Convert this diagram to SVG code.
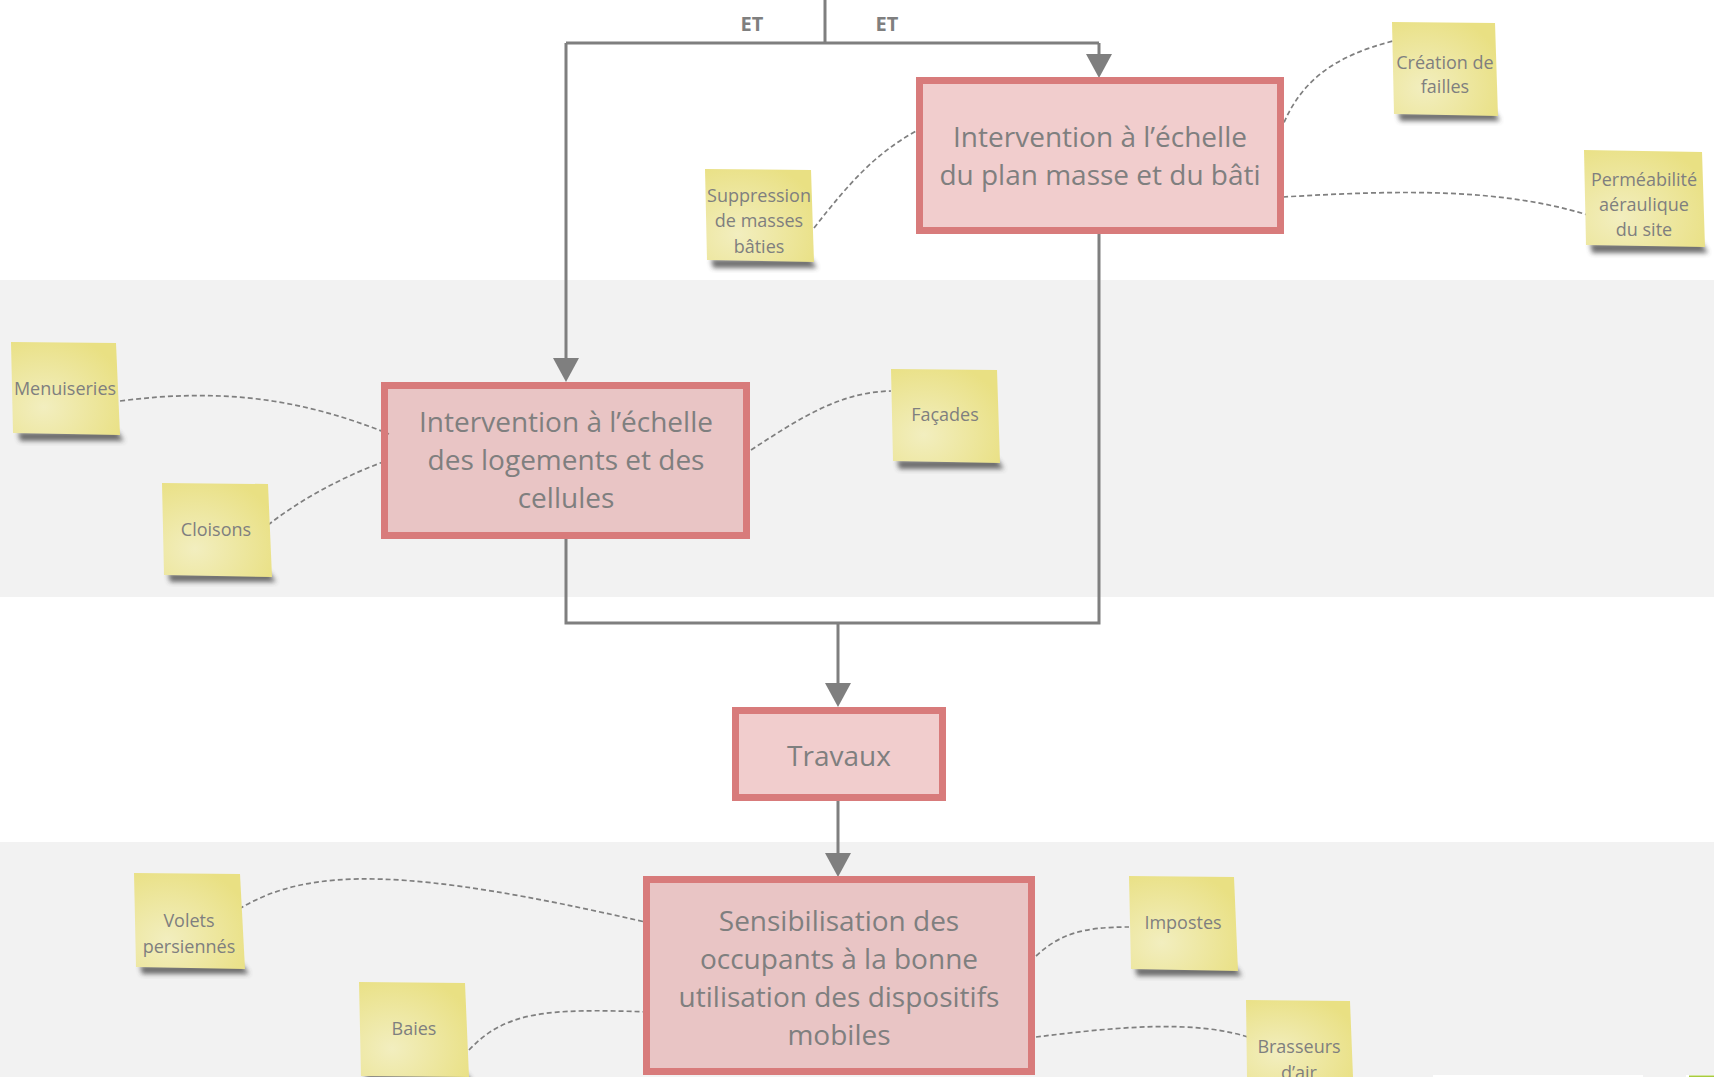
<svg xmlns="http://www.w3.org/2000/svg" width="1714" height="1077" viewBox="0 0 1714 1077">
<defs>
<style>
.band{fill:#f2f2f2}
.box{fill:#d97c7c;fill-opacity:0.38;stroke:#d87b7b;stroke-width:7}
.boxtxt{font-family:"Open Sans","Noto Sans",sans-serif;font-size:28px;fill:#7f7f7f;text-anchor:middle}
.notetxt{font-family:"Open Sans","Noto Sans",sans-serif;font-size:18px;fill:#7f7f7f;text-anchor:middle}
.et{font-family:"Open Sans","Noto Sans",sans-serif;font-size:20px;font-weight:bold;fill:#7f7f7f;text-anchor:middle}
.note{fill:url(#noteGrad)}
.shadow{fill:#404040;opacity:0.75;filter:url(#blur)}
.flow{fill:none;stroke:#7f7f7f;stroke-width:3}
.dash{fill:none;stroke:#7f7f7f;stroke-width:1.7;stroke-dasharray:5 3}
</style>
<radialGradient id="noteGrad" cx="0.3" cy="0.7" r="0.8">
<stop offset="0" stop-color="#f2eebf"/>
<stop offset="1" stop-color="#e9e083"/>
</radialGradient>
<filter id="blur" x="-20%" y="-50%" width="140%" height="200%">
<feGaussianBlur stdDeviation="2.5"/>
</filter>
<marker id="arrow" markerUnits="userSpaceOnUse" viewBox="0 0 24 26" markerWidth="24" markerHeight="26" refX="14" refY="13" orient="auto">
<path d="M0,0 L24,13 L0,26 Z" fill="#7f7f7f"/>
</marker>
</defs>

<rect x="0" y="0" width="1714" height="1077" fill="#ffffff"/>
<rect class="band" x="0" y="280" width="1714" height="317"/>
<rect class="band" x="0" y="842" width="1714" height="235"/>
<rect x="1433" y="1075" width="210" height="2" fill="#ffffff"/>
<rect x="1686" y="1075" width="28" height="2" fill="#ffffff"/>
<rect x="1689" y="1075.5" width="25" height="1.5" fill="#a8cc3c"/>

<g id="connectors">
<path class="flow" d="M825,0 V43"/>
<path class="flow" d="M566,43 H1099"/>
<path class="flow" d="M566,43 V372" marker-end="url(#arrow)"/>
<path class="flow" d="M1099,43 V68" marker-end="url(#arrow)"/>
<path class="flow" d="M566,539 V623 H1099 V234"/>
<path class="flow" d="M838,623 V697" marker-end="url(#arrow)"/>
<path class="flow" d="M838,801 V867" marker-end="url(#arrow)"/>
<path class="dash" d="M814,228 C850,182 875,154 916,131"/>
<path class="dash" d="M1281,130 C1300,80 1335,56 1393,41"/>
<path class="dash" d="M1283,197 C1400,190 1500,188 1588,215"/>
<path class="dash" d="M120,401 C220,388 300,398 389,434"/>
<path class="dash" d="M268,525 C300,500 340,478 383,462"/>
<path class="dash" d="M751,450 C800,418 840,392 891,391"/>
<path class="dash" d="M239,909 C310,866 410,868 645,922"/>
<path class="dash" d="M469,1050 C505,1012 545,1008 649,1012"/>
<path class="dash" d="M1036,956 C1060,934 1082,927 1129,927"/>
<path class="dash" d="M1036,1037 C1110,1028 1195,1018 1254,1039"/>
<text class="et" x="752" y="31">ET</text>
<text class="et" x="887" y="31">ET</text>
</g>

<g id="box-plan-masse">
<rect class="box" x="919.5" y="80.5" width="361" height="150"/>
<text class="boxtxt" x="1100" y="147">Intervention à l’échelle</text>
<text class="boxtxt" x="1100" y="185">du plan masse et du bâti</text>
</g>

<g id="box-logements">
<rect class="box" x="384.5" y="385.5" width="362" height="150"/>
<text class="boxtxt" x="566" y="432">Intervention à l’échelle</text>
<text class="boxtxt" x="566" y="470">des logements et des</text>
<text class="boxtxt" x="566" y="508">cellules</text>
</g>

<g id="box-travaux">
<rect class="box" x="735.5" y="710.5" width="207" height="87"/>
<text class="boxtxt" x="839" y="766">Travaux</text>
</g>

<g id="box-sensibilisation">
<rect class="box" x="646.5" y="879.5" width="385" height="192"/>
<text class="boxtxt" x="839" y="931">Sensibilisation des</text>
<text class="boxtxt" x="839" y="969">occupants à la bonne</text>
<text class="boxtxt" x="839" y="1007">utilisation des dispositifs</text>
<text class="boxtxt" x="839" y="1045">mobiles</text>
</g>

<g id="note-creation">
<path class="shadow" d="M1398,112 L1494,111 L1500,121 L1400,121 Z"/>
<path class="note" d="M1392,22 L1495,23 L1498,116 L1394,114 Z"/>
<text class="notetxt" x="1445" y="69">Création de</text>
<text class="notetxt" x="1445" y="93">failles</text>
</g>

<g id="note-permeabilite">
<path class="shadow" d="M1590,243 L1701,242 L1708,253 L1592,253 Z"/>
<path class="note" d="M1584,150 L1702,152 L1705,247 L1586,245 Z"/>
<text class="notetxt" x="1644" y="186">Perméabilité</text>
<text class="notetxt" x="1644" y="211">aéraulique</text>
<text class="notetxt" x="1644" y="236">du site</text>
</g>

<g id="note-suppression">
<path class="shadow" d="M711,259 L810,258 L817,268 L713,268 Z"/>
<path class="note" d="M705,169 L811,170 L814,262 L707,260 Z"/>
<text class="notetxt" x="759" y="202">Suppression</text>
<text class="notetxt" x="759" y="227">de masses</text>
<text class="notetxt" x="759" y="253">bâties</text>
</g>

<g id="note-menuiseries">
<path class="shadow" d="M18,432 L117,431 L124,441 L20,441 Z"/>
<path class="note" d="M11,342 L116,343 L120,435 L13,433 Z"/>
<text class="notetxt" x="65" y="395">Menuiseries</text>
</g>

<g id="note-cloisons">
<path class="shadow" d="M168,573 L269,572 L276,582 L170,582 Z"/>
<path class="note" d="M162,483 L268,484 L272,577 L164,575 Z"/>
<text class="notetxt" x="216" y="536">Cloisons</text>
</g>

<g id="note-facades">
<path class="shadow" d="M897,460 L997,459 L1004,469 L899,469 Z"/>
<path class="note" d="M891,369 L997,370 L1000,463 L893,461 Z"/>
<text class="notetxt" x="945" y="421">Façades</text>
</g>

<g id="note-volets">
<path class="shadow" d="M140,965 L242,964 L249,974 L142,974 Z"/>
<path class="note" d="M134,873 L240,874 L245,969 L136,967 Z"/>
<text class="notetxt" x="189" y="927">Volets</text>
<text class="notetxt" x="189" y="953">persiennés</text>
</g>

<g id="note-baies">
<path class="shadow" d="M365,1074 L466,1073 L473,1083 L367,1083 Z"/>
<path class="note" d="M359,982 L465,983 L469,1077 L361,1076 Z"/>
<text class="notetxt" x="414" y="1035">Baies</text>
</g>

<g id="note-impostes">
<path class="shadow" d="M1135,967 L1235,966 L1242,976 L1137,976 Z"/>
<path class="note" d="M1129,876 L1234,877 L1238,971 L1131,969 Z"/>
<text class="notetxt" x="1183" y="929">Impostes</text>
</g>

<g id="note-brasseurs">
<path class="note" d="M1246,1000 L1350,1001 L1353,1077 L1247,1077 Z"/>
<text class="notetxt" x="1299" y="1053">Brasseurs</text>
<text class="notetxt" x="1299" y="1079">d’air</text>
</g>
</svg>
